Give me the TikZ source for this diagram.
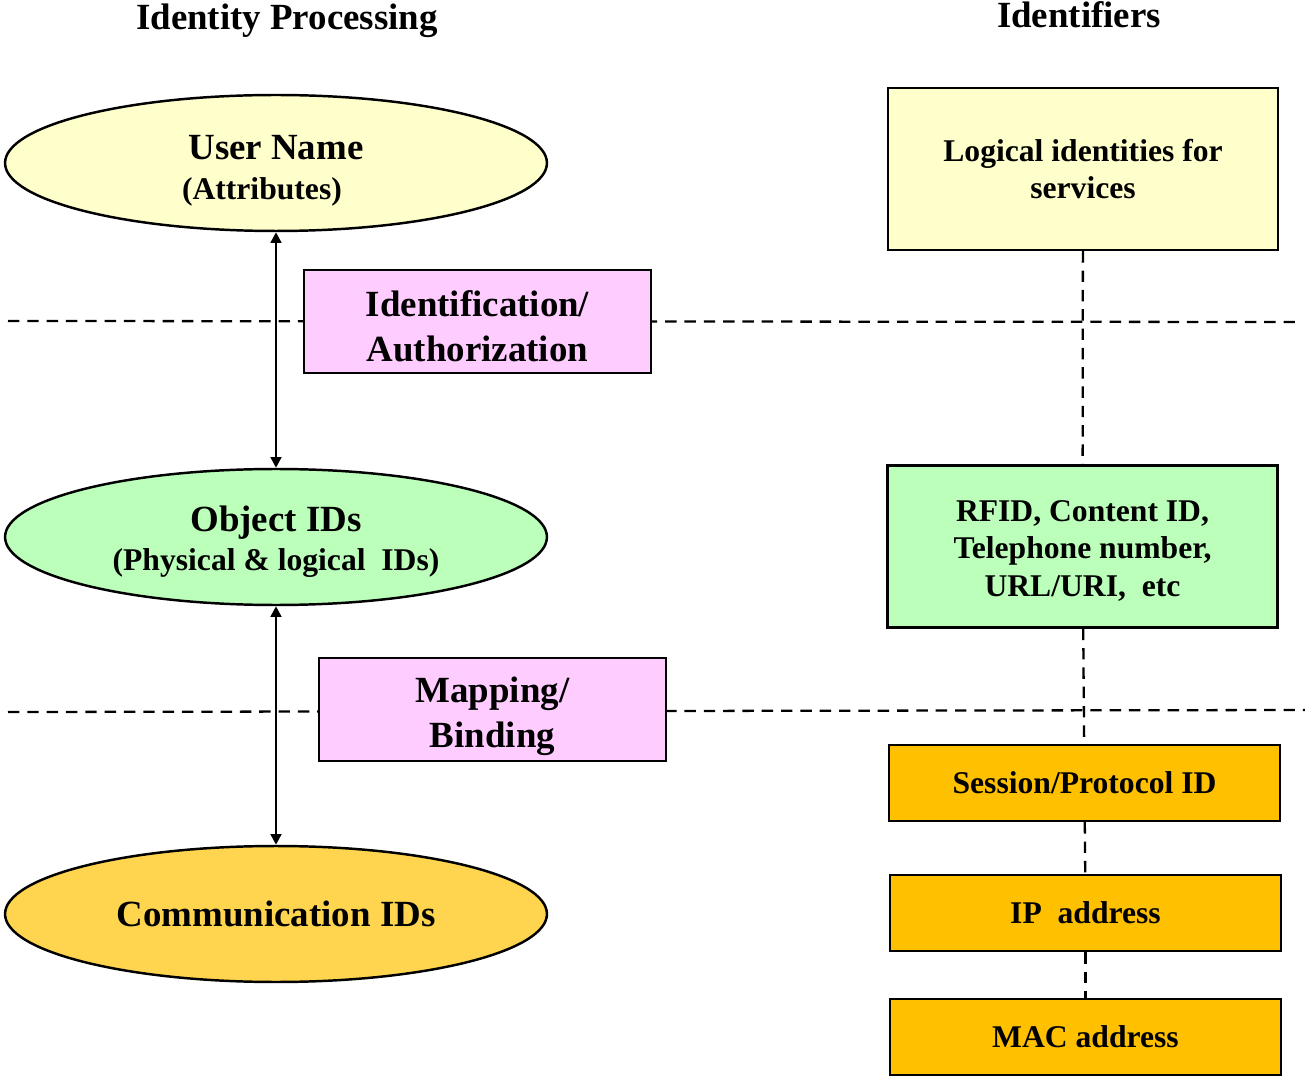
\documentclass[tikz,border=0pt]{standalone}
\usepackage{fontspec}
\setmainfont{Liberation Serif}
\usepackage{xcolor}
\usepackage{tikz}
\usetikzlibrary{positioning,shapes.geometric,arrows.meta}

\definecolor{nameyellow}{HTML}{FFFFCC}
\definecolor{objgreen}{HTML}{BBFFBB}
\definecolor{mappink}{HTML}{FFCCFF}
\definecolor{commgold}{HTML}{FFD54F}
\definecolor{addrorange}{HTML}{FFC000}

\tikzset{
    bigtext/.style={font=\bfseries\fontsize{21}{25.6}\selectfont},
    midtext/.style={font=\bfseries\fontsize{18}{21.6}\selectfont},
    idell/.style={ellipse, draw, line width=1.4pt, inner sep=0pt,
        minimum width=10.84cm, minimum height=2.72cm, align=center, bigtext},
    mapbox/.style={rectangle, draw, line width=1.4pt, fill=mappink,
        minimum width=6.94cm, minimum height=2.06cm, align=center, bigtext},
    idbox/.style={rectangle, draw, line width=1.4pt,
        minimum width=7.8cm, minimum height=3.24cm, align=center, midtext},
    addrbox/.style={rectangle, draw, line width=1.4pt, fill=addrorange,
        minimum width=7.82cm, minimum height=1.52cm, align=center, midtext},
    guide/.style={line width=1.3pt, dash pattern=on 6.5pt off 4.5pt},
    link/.style={line width=1.4pt, {Triangle[length=6pt,width=6pt]}-{Triangle[length=6pt,width=6pt]}}
}

\begin{document}
\begin{tikzpicture}[x=0.02cm, y=-0.02cm]
    \useasboundingbox (0,0) rectangle (1305,1077);

    % headings
    \node[bigtext, anchor=base] (hproc) at (287,30) {Identity Processing};
    \node[bigtext, anchor=base] (hids) at (1079,28) {Identifiers};

    % layer borders
    \coordinate (upl) at (8,321);
    \coordinate (upr) at (1300,322);
    \coordinate (lol) at (8,712);
    \coordinate (lor) at (1305,710);
    \draw[guide] (upl) -- (upr);
    \draw[guide] (lol) -- (lor);

    % identity processing
    \node[idell, fill=nameyellow] (username) at (276,163)
        {\rule{0pt}{23pt}User Name\\[-3pt]{\fontsize{18}{21.6}\selectfont (Attributes)\hspace*{16pt}}};
    \node[idell, fill=objgreen] (objid) at (276,537)
        {\rule{0pt}{20pt}Object IDs\\[-3pt]{\fontsize{18}{21.6}\selectfont (Physical \& logical\ \ IDs)}};
    \node[idell, fill=commgold] (commid) at (276,914) {Communication IDs};

    \node[mapbox] (authz) at (477.5,321.5) {\rule{0pt}{20.5pt}Identification/\\Authorization};
    \node[mapbox] (binding) at (492.5,709.5) {\rule{0pt}{22pt}Mapping/\\Binding};

    \draw[link] (username) -- (objid);
    \draw[link] (objid) -- (commid);

    % identifiers
    \node[idbox, fill=nameyellow] (logical) at (1083,169) {Logical identities for\\services};
    \node[idbox, fill=objgreen] (rfid) at (1082.5,546.5) {\rule{0pt}{17pt}RFID, Content ID,\\Telephone number,\\URL/URI,\ \ etc};
    \node[addrbox] (session) at (1084.5,783) {Session/Protocol ID};
    \node[addrbox] (ipaddr) at (1085.5,913) {IP\ \ address};
    \node[addrbox] (macaddr) at (1085.5,1037) {MAC address};

    \draw[guide] (logical) -- (rfid);
    \draw[guide] (rfid) -- (session);
    \draw[guide] (session) -- (ipaddr);
    \draw[guide] (ipaddr) -- (macaddr);
\end{tikzpicture}
\end{document}
